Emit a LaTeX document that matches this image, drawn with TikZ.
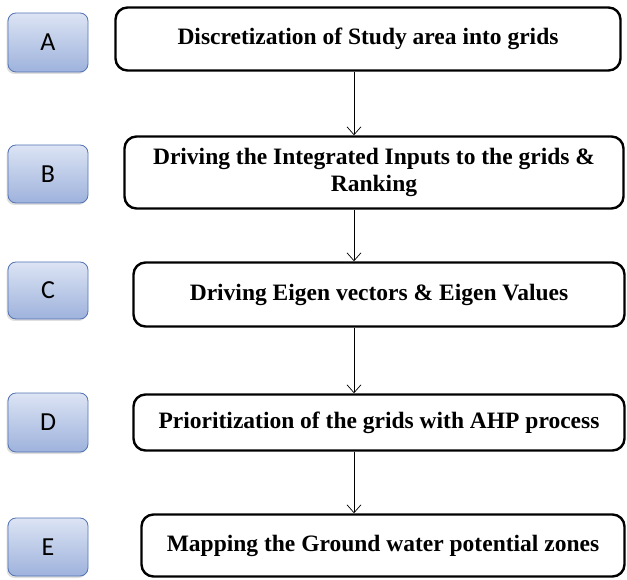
\documentclass[tikz,border=0pt]{standalone}
\usepackage{fontspec}
\setmainfont{Liberation Serif}
\newfontfamily\lblfont{Carlito}
\usetikzlibrary{arrows.meta,shadows}
\definecolor{tagtop}{RGB}{220,228,244}
\definecolor{tagbot}{RGB}{158,178,220}
\definecolor{tagline}{RGB}{84,116,178}

\begin{document}
\begin{tikzpicture}[x=1pt,y=-1pt]
	\tikzstyle{every node}=[inner sep=2pt]
	\tikzstyle{tag}=[draw=tagline, line width=0.8pt, rounded corners=8pt,
		top color=tagtop, bottom color=tagbot, minimum width=80pt,
		font=\lblfont\fontsize{26}{30}\selectfont,
		drop shadow={shadow xshift=-1.5pt, shadow yshift=-2pt, opacity=0.25}]
	\tikzstyle{stage}=[draw, line width=2.4pt, rounded corners=12pt, fill=white,
		align=center, font=\bfseries\fontsize{23.5}{27}\selectfont]
	\tikzstyle{flow}=[-{Straight Barb[length=8pt,width=14pt]}, line width=0.7pt]
	\useasboundingbox (0,0) rectangle (627,580);

	% letters on the left
	\node[tag, minimum height=59pt] (tA) at (48,42.5) {A};
	\node[tag, minimum height=58pt] (tB) at (48,174) {B};
	\node[tag, minimum height=57pt] (tC) at (48,290.5) {C};
	\node[tag, minimum height=59pt] (tD) at (48,422.5) {D};
	\node[tag, minimum height=58pt] (tE) at (48,547) {E};

	% the steps
	\node[stage, minimum width=505pt, minimum height=63pt] (sA) at (368,39)
		{Discretization of Study area into grids};
	\node[stage, minimum width=499pt, minimum height=72pt] (sB) at (374,172.5)
		{Driving the Integrated Inputs to the grids \&\\ Ranking};
	\node[stage, minimum width=491pt, minimum height=64pt] (sC) at (379,294.5)
		{Driving Eigen vectors \& Eigen Values};
	\node[stage, minimum width=491pt, minimum height=56pt] (sD) at (379,422.5)
		{Prioritization of the grids with AHP process};
	\node[stage, minimum width=483pt, minimum height=62pt] (sE) at (383,545.5)
		{Mapping the Ground water potential zones};

	\coordinate (ax) at (354,0);
	\draw[flow] (sA.south -| ax) -- (sB.north -| ax);
	\draw[flow] (sB.south -| ax) -- (sC.north -| ax);
	\draw[flow] (sC.south -| ax) -- (sD.north -| ax);
	\draw[flow] (sD.south -| ax) -- (sE.north -| ax);
\end{tikzpicture}
\end{document}
